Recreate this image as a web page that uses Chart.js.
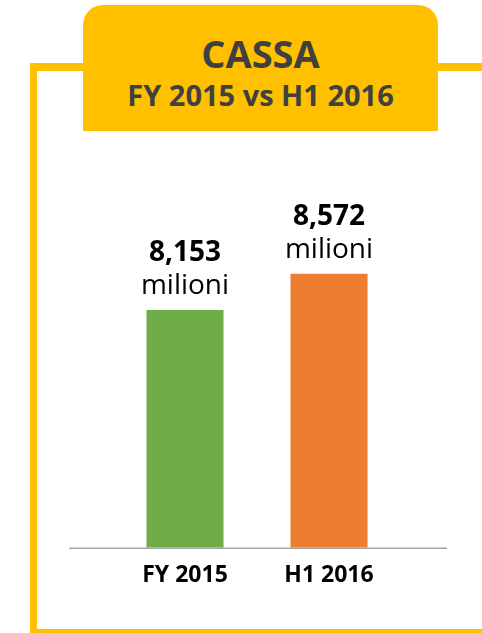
<!DOCTYPE html>
<html>
<head>
<meta charset="utf-8">
<script src="https://cdn.jsdelivr.net/npm/chart.js@4.4.1/dist/chart.umd.min.js"></script>
<style>
    html, body { margin: 0; padding: 0; width: 482px; height: 633px; overflow: hidden; background: #fff; font-family: 'Open Sans', sans-serif; }
    #frame { position: absolute; left: 30px; top: 63px; width: 520px; height: 558px; border-left: 7px solid #FFC000; border-top: 8px solid #FFC000; border-bottom: 8px solid #FFC000; }
    #header { position: absolute; left: 83px; top: 5px; width: 355px; height: 126px; background: #FFC000; border-radius: 20px 20px 0 0; color: #404040; text-align: center; font-weight: bold; }
    #header .t1 { position: absolute; left: 0; right: 0; top: 23px; font-size: 38px; line-height: 50px; }
    #header .t2 { position: absolute; left: 0; right: 0; top: 70px; font-size: 29px; line-height: 40px; }
    #cassa-chart { position: absolute; left: 0; top: 0; }
</style>
</head>
<body>
<div id="frame"></div>
<div id="header">
    <div class="t1">CASSA</div>
    <div class="t2">FY 2015 vs H1 2016</div>
</div>
<canvas id="cassa-chart" width="482" height="633"></canvas>
<script>
var label_values = ['FY 2015', 'H1 2016'];
var cassa_values = [8153, 8572];
var bar_colors = ['#70AD47', '#ED7D31'];
var unit_label = 'milioni';

var CassaChart;

// etichette sopra le barre: valore in grassetto + "milioni"
var barLabels = {
    id: 'barLabels',
    afterDatasetsDraw: function (chart) {
        var ctx = chart.ctx;
        var meta = chart.getDatasetMeta(0);
        ctx.save();
        ctx.textAlign = 'center';
        ctx.textBaseline = 'alphabetic';
        ctx.fillStyle = '#000000';
        meta.data.forEach(function (bar, i) {
            var value = chart.data.datasets[0].data[i];
            ctx.font = 'bold 28px "Open Sans"';
            ctx.fillText(value.toLocaleString('en-US'), bar.x, bar.y - 49);
            ctx.font = '28px "Open Sans"';
            ctx.fillText(unit_label, bar.x, bar.y - 16);
        });
        ctx.restore();
    }
};

// linea di base, un po' più larga dell'area delle barre
var baseLine = {
    id: 'baseLine',
    afterDatasetsDraw: function (chart) {
        var ctx = chart.ctx;
        var area = chart.chartArea;
        ctx.save();
        ctx.strokeStyle = '#A6A6A6';
        ctx.lineWidth = 1.5;
        ctx.beginPath();
        ctx.moveTo(area.left - 44, area.bottom + 0.75);
        ctx.lineTo(area.right + 46, area.bottom + 0.75);
        ctx.stroke();
        ctx.restore();
    }
};

function LoadCassaChart() {
    var ctx = document.getElementById('cassa-chart');
    if (CassaChart) {
        CassaChart.destroy();
    }
    CassaChart = new Chart(ctx, {
        type: 'bar',
        data: {
            labels: label_values,
            datasets: [{
                label: 'Cassa',
                data: cassa_values,
                backgroundColor: bar_colors,
                borderWidth: 0,
                categoryPercentage: 1,
                barPercentage: 0.535
            }]
        },
        plugins: [barLabels, baseLine],
        options: {
            responsive: false,
            animation: false,
            layout: {
                padding: { left: 113, right: 81, top: 150.6, bottom: 30 }
            },
            plugins: {
                legend: false,
                tooltip: { enabled: false }
            },
            scales: {
                x: {
                    grid: { display: false, drawTicks: false },
                    border: { display: false },
                    ticks: {
                        color: '#000000',
                        padding: 14,
                        font: { family: 'Open Sans', size: 23, weight: 'bold', lineHeight: 1.2 }
                    }
                },
                y: {
                    display: false,
                    min: 5400,
                    max: 10000
                }
            }
        }
    });
}

LoadCassaChart();
</script>
</body>
</html>
